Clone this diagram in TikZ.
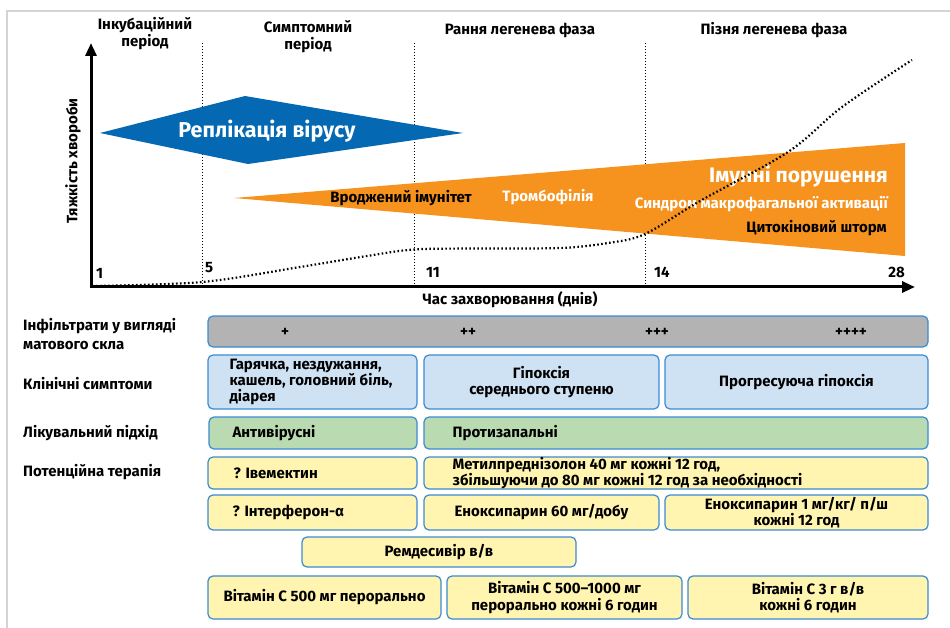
\documentclass[tikz,border=0pt]{standalone}
\usepackage{fontspec}
\setmainfont{Fira Sans}
\usetikzlibrary{arrows.meta,shapes.geometric}
\definecolor{bluec}{HTML}{0468B3}
\definecolor{orangec}{HTML}{F6921E}
\definecolor{bordc}{HTML}{3A8BD2}
\definecolor{grayc}{HTML}{B3B3B3}
\definecolor{lbluec}{HTML}{CFE2F4}
\definecolor{greenc}{HTML}{BADBB1}
\definecolor{yelc}{HTML}{FFF5B0}
\definecolor{framec}{HTML}{D4D4D4}
\newcommand\mkbox[6]{\node[#6, minimum width={#4-#2}, minimum height={#5-#3}] (#1) at ({(#2+#4)/2},{(#3+#5)/2}) {};}
\begin{document}
\begin{tikzpicture}[x=1pt,y=-1pt,
  lbl/.style={font=\fontsize{15}{16.3}\selectfont\bfseries, text=black, inner sep=0},
  hdr/.style={font=\fontsize{15}{17}\selectfont\bfseries, text=black, inner sep=0, align=center},
  boxbase/.style={draw=bordc, line width=1.2, rounded corners=5, inner sep=0},
  gbox/.style={boxbase, fill=grayc},
  bbox/.style={boxbase, fill=lbluec},
  grbox/.style={boxbase, fill=greenc},
  ybox/.style={boxbase, fill=yelc},
  vdot/.style={line width=1, dash pattern=on 1 off 2},
  cdot/.style={line width=2.2, dash pattern=on 1.6 off 2.4},
  axis/.style={line width=3, {Triangle[length=13,width=11]}-{Triangle[length=13,width=11]}}
]
\useasboundingbox (0,0) rectangle (950,628);
% frame
\draw[framec, line width=1.5] (7,628) -- (7,11) -- (950,11);
% vertical dotted
\coordinate (v5t) at (202,43); \coordinate (v5b) at (202,287);
\coordinate (v11t) at (414,43); \coordinate (v11b) at (414,287);
\coordinate (v14t) at (645,43); \coordinate (v14b) at (645,287);
\draw[vdot] (v5t) -- (v5b);
\draw[vdot] (v11t) -- (v11b);
\draw[vdot] (v14t) -- (v14b);
% axes
\coordinate (ytop) at (91,43); \coordinate (O) at (91,287); \coordinate (xend) at (915,287);
\draw[axis] (ytop) -- (O) -- (xend);
% headers
\node[hdr] (h1) at (145,34) {Інкубаційний\\період};
\node[hdr] (h2) at (308,37) {Симптомний\\період};
\node[hdr] (h3) at (520,30) {Рання легенева фаза};
\node[hdr] (h4) at (774,30) {Пізня легенева фаза};
\node[hdr, rotate=90] (ylab) at (73,161) {Тяжкість хвороби};
\node[hdr] (xlab) at (510,300) {Час захворювання (днів)};
% numbers
\node[hdr, anchor=west] (n1) at (96,273) {1};
\node[hdr, anchor=west] (n5) at (205,268) {5};
\node[hdr, anchor=west] (n11) at (426,272) {11};
\node[hdr, anchor=west] (n14) at (654,272) {14};
\node[hdr, anchor=east] (n28) at (905,272) {28};
% blue diamond
\fill[bluec] (100,133) -- (245,96) -- (463,133) -- (248,164) -- cycle;
\node[font=\fontsize{21.5}{25}\selectfont\bfseries, text=white, inner sep=0] (rep) at (267,131) {Реплікація вірусу};
% orange wedge
\fill[orangec] (234,198) -- (905,143) -- (905,256) -- cycle;
\node[lbl] (vi) at (401,198) {Вроджений імунітет};
\node[lbl, text=white] (tr) at (548,197) {Тромбофілія};
\node[font=\fontsize{21}{24}\selectfont\bfseries, text=white, inner sep=0, anchor=east] (im) at (888,176) {Імунні порушення};
\node[lbl, text=white, anchor=east] (sm) at (888,204) {Синдром макрофагальної активації};
\node[lbl, anchor=east] (cs) at (887,228) {Цитокіновий шторм};
% severity curve
\draw[cdot] plot[smooth, tension=0.55] coordinates {(92,286) (202,282) (300,267) (367,256) (414,249.5) (475,248.5) (560,248) (608,243) (645,234) (700,201) (788,152) (842,107) (912,60)};
% row labels
\node[lbl, anchor=west, align=left] (r1) at (23,334) {Інфільтрати у вигляді\\[2.5pt]матового скла};
\node[lbl, anchor=west] (r2) at (23,384) {Клінічні симптоми};
\node[lbl, anchor=west] (r3) at (23,433) {Лікувальний підхід};
\node[lbl, anchor=west] (r4) at (23,472) {Потенційна терапія};
% infiltrates
\mkbox{g1}{208}{316}{928}{347}{gbox}
\node[lbl] (p1) at (285,332) {+};
\node[lbl] (p2) at (468,332) {++};
\node[lbl] (p3) at (657,332) {+++};
\node[lbl] (p4) at (851,332) {++++};
% clinical
\mkbox{c1}{208}{355}{417}{409}{bbox}
\mkbox{c2}{424}{355}{659}{409}{bbox}
\mkbox{c3}{665}{355}{928}{409}{bbox}
\node[lbl, anchor=west, align=left] (c1t) at ([xshift=22]c1.west) {Гарячка, нездужання,\\кашель, головний біль,\\діарея};
\node[lbl, align=center] (c2t) at (c2.center) {Гіпоксія\\середнього ступеню};
\node[lbl] (c3t) at (c3.center) {Прогресуюча гіпоксія};
% approach
\mkbox{a1}{209}{417}{417}{449}{grbox}
\mkbox{a2}{424}{417}{928}{449}{grbox}
\node[lbl, anchor=west] (a1t) at ([xshift=24]a1.west) {Антивірусні};
\node[lbl, anchor=west] (a2t) at ([xshift=29]a2.west) {Протизапальні};
% therapy
\mkbox{t1}{208}{457}{417}{489}{ybox}
\mkbox{t2}{424}{457}{928}{489}{ybox}
\node[lbl, anchor=west] (t1t) at ([xshift=26]t1.west) {? Івемектин};
\node[lbl, anchor=west, align=left] (t2t) at ([xshift=29]t2.west) {Метилпреднізолон 40 мг кожні 12 год,\\збільшуючи до 80 мг кожні 12 год за необхідності};
\mkbox{u1}{208}{495}{417}{530}{ybox}
\mkbox{u2}{424}{495}{659}{530}{ybox}
\mkbox{u3}{665}{495}{928}{530}{ybox}
\node[lbl, anchor=west] (u1t) at ([xshift=25]u1.west) {? Інтерферон-α};
\node[lbl] (u2t) at (u2.center) {Еноксипарин 60 мг/добу};
\node[lbl, align=center] (u3t) at (u3.center) {Еноксипарин 1 мг/кг/ п/ш\\кожні 12 год};
\mkbox{rm}{302}{537}{576}{567}{ybox}
\node[lbl] (rmt) at (rm.center) {Ремдесивір в/в};
\mkbox{w1}{208}{576}{441}{619}{ybox}
\mkbox{w2}{447}{576}{682}{619}{ybox}
\mkbox{w3}{688}{576}{928}{619}{ybox}
\node[lbl] (w1t) at (w1.center) {Вітамін С 500 мг перорально};
\node[lbl, align=center] (w2t) at (w2.center) {Вітамін С 500–1000 мг\\перорально кожні 6 годин};
\node[lbl, align=center] (w3t) at (w3.center) {Вітамін С 3 г в/в\\кожні 6 годин};
\end{tikzpicture}
\end{document}
